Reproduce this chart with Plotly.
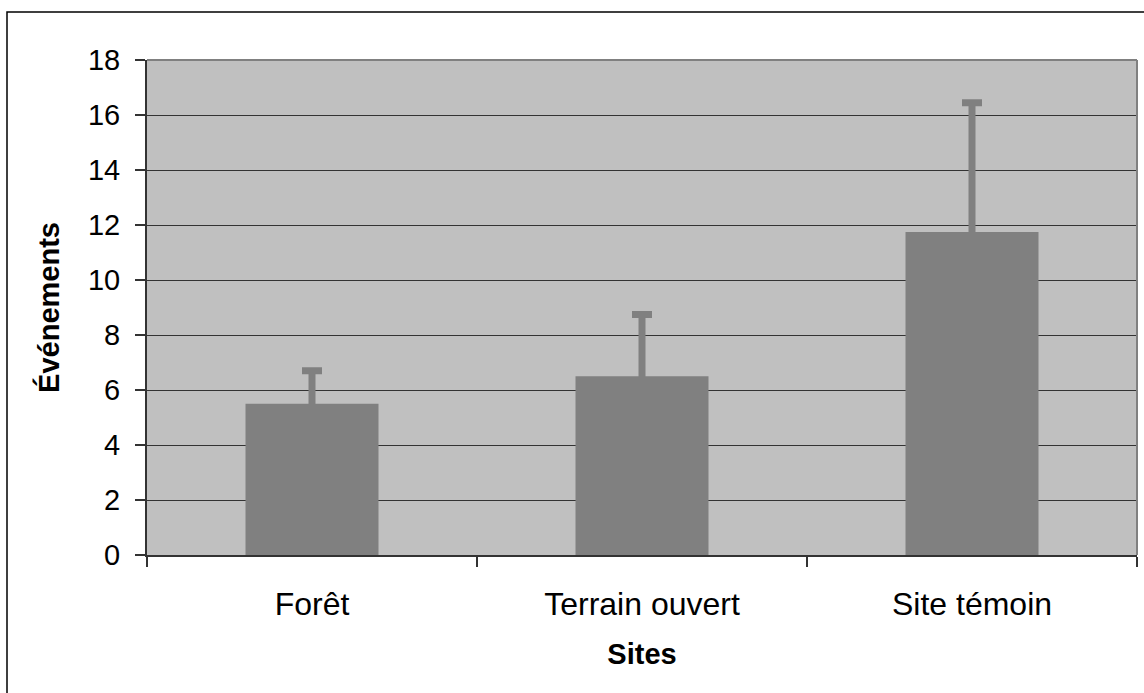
import plotly.graph_objects as go

sites = ["Forêt", "Terrain ouvert", "Site témoin"]
evenements = [5.5, 6.5, 11.75]
erreurs = [1.2, 2.25, 4.7]
y_ticks = [0, 2, 4, 6, 8, 10, 12, 14, 16, 18]

W, H = 1144, 693
L, R, T, B = 147, 7, 60, 138
pw, ph = W - L - R, H - T - B

def px(x):
    return (x - L) / pw

def py(y):
    return (H - B - y) / ph

# downward part hidden inside the bar (same colour) so no cap shows at the bar top
hidden_minus = [0.5 for _ in evenements]

fig = go.Figure(go.Bar(
    x=sites, y=evenements,
    marker=dict(color="#808080", line=dict(width=0)),
    error_y=dict(type="data", array=erreurs, arrayminus=hidden_minus, symmetric=False,
                 color="#808080", thickness=7, width=10),
))

font = "Arial, 'Liberation Sans', sans-serif"
fig.update_layout(
    width=W, height=H,
    margin=dict(l=L, r=R, t=T, b=B, autoexpand=False),
    paper_bgcolor="white", plot_bgcolor="#C0C0C0",
    bargap=0.597,
    showlegend=False,
    font=dict(family=font, color="black"),
    xaxis=dict(
        type="category", tickson="boundaries", ticks="outside", ticklen=10,
        tickcolor="#333333", tickwidth=1.5,
        showline=True, linecolor="#333333", linewidth=2,
        showgrid=False,
        tickfont=dict(size=32, family=font, color="black"),
        ticklabelstandoff=20,
        title=dict(text="<b>Sites</b>", font=dict(size=29, family=font), standoff=22),
    ),
    yaxis=dict(
        range=[0, 18], tickvals=y_ticks, ticks="outside", ticklen=10,
        tickcolor="#333333", tickwidth=1.5,
        showline=True, linecolor="#333333", linewidth=2,
        showgrid=True, gridcolor="#333333", gridwidth=1,
        zeroline=False,
        tickfont=dict(size=29, family=font, color="black"),
        ticklabelstandoff=9,
        title=dict(text="<b>Événements</b>", font=dict(size=29, family=font), standoff=20),
    ),
    shapes=[
        dict(type="line", xref="paper", yref="paper", x0=0, x1=1, y0=1, y1=1,
             line=dict(color="#808080", width=2)),
        dict(type="line", xref="paper", yref="paper", x0=1, x1=1, y0=0, y1=1,
             line=dict(color="#808080", width=2)),
        dict(type="rect", xref="paper", yref="paper",
             x0=px(7), x1=px(1160), y0=py(710), y1=py(12),
             line=dict(color="black", width=1.5), fillcolor="rgba(0,0,0,0)"),
    ],
)

fig.write_html("out.html", config={"displayModeBar": False},
               post_script="document.body.style.margin='0px';")
